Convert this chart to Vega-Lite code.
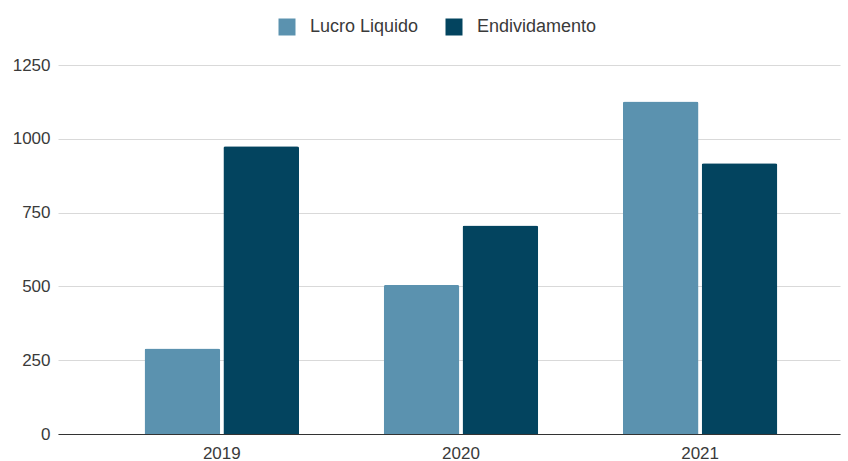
{
  "$schema": "https://vega.github.io/schema/vega-lite/v6.json",
  "width": 782,
  "height": 369,
  "autosize": {"type": "none"},
  "padding": {"left": 58, "top": 65, "right": 8, "bottom": 27},
  "background": "white",
  "config": {
    "view": {"stroke": null},
    "font": "Liberation Sans"
  },
  "data": {
    "values": [
      {"ano": "2019", "serie": "Lucro Liquido", "valor": 290},
      {"ano": "2019", "serie": "Endividamento", "valor": 975},
      {"ano": "2020", "serie": "Lucro Liquido", "valor": 505},
      {"ano": "2020", "serie": "Endividamento", "valor": 706},
      {"ano": "2021", "serie": "Lucro Liquido", "valor": 1126},
      {"ano": "2021", "serie": "Endividamento", "valor": 917}
    ]
  },
  "mark": {"type": "bar", "cornerRadiusEnd": 2},
  "encoding": {
    "x": {
      "field": "ano", "type": "nominal",
      "scale": {"paddingInner": 0.354, "paddingOuter": 0.312, "align": 0.58},
      "axis": {"title": null, "labelAngle": 0, "ticks": false, "domainColor": "#333333", "labelColor": "#3a3a3a", "labelFontSize": 17, "labelPadding": 11, "grid": false}
    },
    "xOffset": {
      "field": "serie", "type": "nominal",
      "sort": ["Lucro Liquido", "Endividamento"],
      "scale": {"paddingInner": 0.04}
    },
    "y": {
      "field": "valor", "type": "quantitative",
      "scale": {"domain": [0, 1250]},
      "axis": {"title": null, "values": [0, 250, 500, 750, 1000, 1250], "format": "d", "domain": false, "ticks": false, "gridColor": "#d9d9d9", "labelColor": "#3a3a3a", "labelFontSize": 17, "labelPadding": 8}
    },
    "color": {
      "field": "serie", "type": "nominal",
      "sort": ["Lucro Liquido", "Endividamento"],
      "scale": {"domain": ["Lucro Liquido", "Endividamento"], "range": ["#5b92af", "#03445f"]},
      "legend": {"title": null, "orient": "none", "direction": "horizontal", "legendX": 220, "legendY": -47, "symbolType": "square", "symbolSize": 289, "symbolStrokeWidth": 0, "labelFontSize": 18, "labelColor": "#3a3a3a", "columnPadding": 26, "labelOffset": 14}
    }
  }
}
